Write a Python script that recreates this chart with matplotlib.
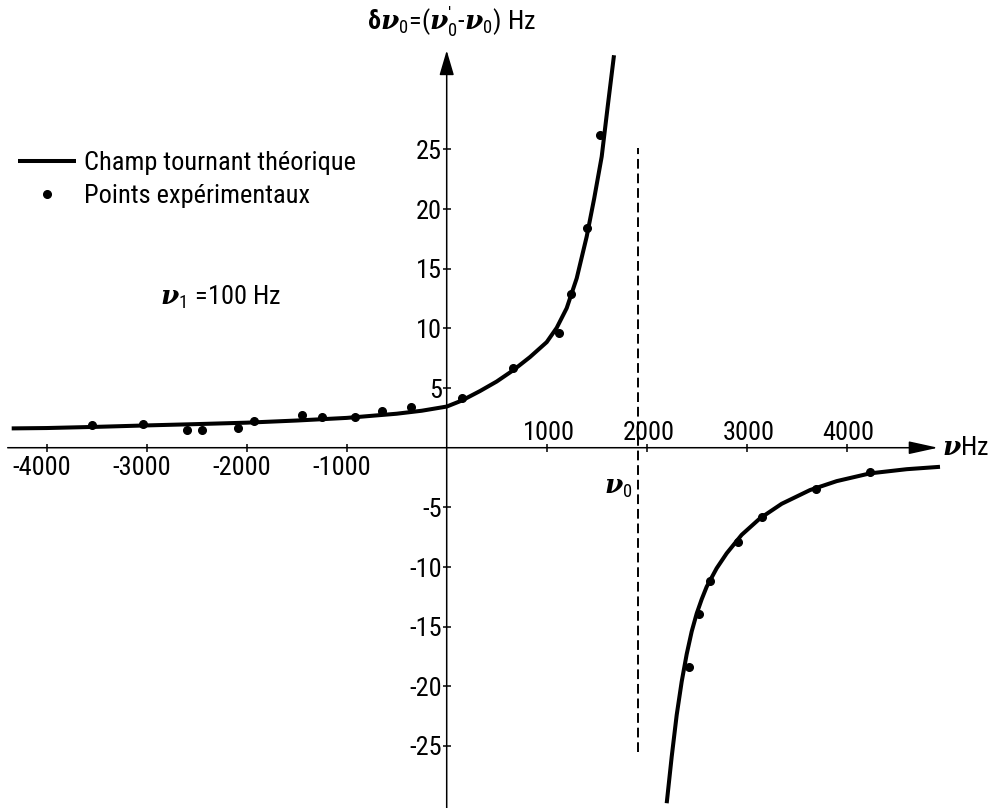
import matplotlib
matplotlib.use('Agg')
import matplotlib.pyplot as plt
from matplotlib import font_manager

avail = {f.name for f in font_manager.fontManager.ttflist}
MAIN = 'DejaVu Sans'
for cand in ['Roboto Condensed', 'Liberation Sans Narrow', 'Archivo Narrow',
             'Barlow Semi Condensed', 'Asap Condensed']:
    if cand in avail:
        MAIN = cand
        break
plt.rcParams['font.family'] = [MAIN, 'DejaVu Sans']
plt.rcParams['mathtext.fontset'] = 'custom'
plt.rcParams['mathtext.rm'] = MAIN
plt.rcParams['mathtext.it'] = MAIN + ':italic'
plt.rcParams['mathtext.bf'] = MAIN + ':bold'
plt.rcParams['mathtext.bfit'] = 'DejaVu Serif:italic:bold'

# ---------------- data ----------------
x_ticks_neg = [-4000, -3000, -2000, -1000]
x_ticks_pos = [1000, 2000, 3000, 4000]
y_ticks = [25, 20, 15, 10, 5, -5, -10, -15, -20, -25]

theory_left_nu = [-4350, -4000, -3500, -3000, -2500, -2000, -1500, -1000, -500, -250,
                  0, 150, 333, 500, 666, 833, 1000, 1100, 1200, 1300, 1400, 1475,
                  1550, 1610, 1673]
theory_left_shift = [1.62, 1.65, 1.75, 1.87, 1.98, 2.1, 2.28, 2.5, 2.85, 3.1,
                     3.45, 3.95, 4.75, 5.55, 6.5, 7.6, 8.85, 10.05, 11.7, 14.2, 17.7, 20.9,
                     24.4, 28.6, 32.9]
theory_right_nu = [2200, 2250, 2300, 2350, 2400, 2450, 2500, 2550, 2600, 2700, 2800,
                   2950, 3133, 3350, 3633, 3900, 4233, 4600, 4933]
theory_right_shift = [-29.8, -25.9, -22.4, -19.6, -17.3, -15.4, -13.9, -12.7, -11.65,
                      -10.1, -8.85, -7.3, -5.92, -4.7, -3.55, -2.8, -2.15, -1.8, -1.6]

exp_nu = [-3550, -3034, -2600, -2450, -2090, -1927, -1450, -1250, -917, -644, -360,
          150, 666, 1123, 1243, 1406, 1533,
          2426, 2526, 2633, 2916, 3150, 3690, 4233]
exp_shift = [1.90, 1.96, 1.48, 1.48, 1.62, 2.26, 2.74, 2.6, 2.6, 3.05, 3.42,
             4.2, 6.65, 9.64, 12.9, 18.4, 26.2,
             -18.35, -13.97, -11.2, -7.93, -5.83, -3.46, -2.0]

nu0 = 1910
nu0_span = (-25.5, 25.1)

# ---------------- figure ----------------
fig = plt.figure(figsize=(9.92, 8.08), dpi=100)
ax = fig.add_axes([0, 0, 1, 1])
ax.set_xlim(-4467, 5453)
ax.set_ylim(-30.2, 37.53)
ax.axis('off')

# axes with arrows
ax.annotate('', xy=(4913, 0), xytext=(-4390, 0),
            arrowprops=dict(arrowstyle='-|>,head_length=1.0,head_width=0.22',
                            color='black', lw=1.1, mutation_scale=18,
                            shrinkA=0, shrinkB=0))
ax.annotate('', xy=(0, 33.3), xytext=(0, -30.3),
            arrowprops=dict(arrowstyle='-|>,head_length=0.85,head_width=0.25',
                            color='black', lw=1.1, mutation_scale=18,
                            shrinkA=0, shrinkB=0))

# ticks
ax.plot(x_ticks_neg + x_ticks_pos, [0] * 8, ls='none', marker='|', ms=6,
        mew=1.1, color='black')
ax.plot([0] * len(y_ticks), y_ticks, ls='none', marker='_', ms=6,
        mew=1.1, color='black')

FS = 19
for t in x_ticks_neg:
    ax.annotate('-%d' % abs(t), xy=(t, 0), xytext=(-5, -8),
                textcoords='offset pixels', ha='center', va='top', fontsize=FS)
for t in x_ticks_pos:
    ax.annotate('%d' % t, xy=(t, 0), xytext=(2, 8),
                textcoords='offset pixels', ha='center', va='baseline', fontsize=FS)
for t in y_ticks:
    ax.annotate(('-%d' % abs(t)) if t < 0 else '%d' % t, xy=(0, t), xytext=(-5, 0),
                textcoords='offset pixels', ha='right', va='center_baseline',
                fontsize=FS)

# theoretical curve and experimental points
line, = ax.plot(theory_left_nu, theory_left_shift, color='black', lw=2.9,
                solid_capstyle='butt', solid_joinstyle='round',
                label='Champ tournant théorique')
ax.plot(theory_right_nu, theory_right_shift, color='black', lw=2.9,
        solid_capstyle='butt', solid_joinstyle='round')
pts, = ax.plot(exp_nu, exp_shift, ls='none', marker='o', ms=5.5, color='black',
               label='Points expérimentaux')

# resonance line
ax.vlines(nu0, nu0_span[0], nu0_span[1], colors='black', lw=1.4,
          linestyles=(0, (5, 2.5)))
ax.annotate(r'$\mathbfit{\nu}_0$', xy=(nu0, -3.4), xytext=(-5, 0),
            textcoords='offset pixels', ha='right', va='center', fontsize=FS)

# axis labels
ax.annotate(r'$\mathbfit{\nu}$Hz', xy=(4950, 0), ha='left', va='center',
            fontsize=FS)
ax.text(50, 35.7, r'$\mathbf{\delta}\mathbfit{\nu}_0$=($\mathbfit{\nu}_0^{\prime}$-$\mathbfit{\nu}_0$) Hz',
        ha='center', va='center', fontsize=FS)

ax.text(-2867, 12.6, r'$\mathbfit{\nu}_1$ =100 Hz', ha='left', va='center',
        fontsize=FS)

ax.legend(handles=[line, pts], loc='upper left',
          bbox_to_anchor=(18 / 992, 1 - 151 / 808), bbox_transform=fig.transFigure,
          frameon=False, fontsize=FS, handlelength=2.2, handletextpad=0.3,
          labelspacing=0.35, borderpad=0, borderaxespad=0)

fig.savefig('out.png', dpi=100)
